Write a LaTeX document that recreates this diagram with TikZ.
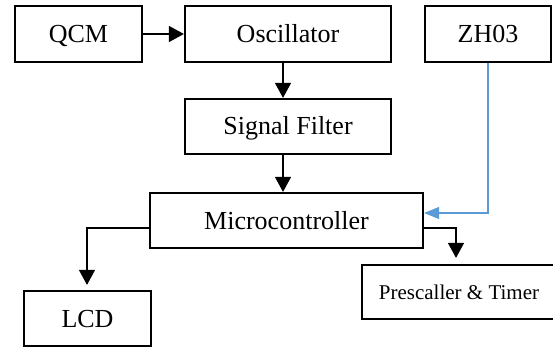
\documentclass[tikz,border=0pt]{standalone}
\usepackage{fontspec}
\setmainfont{Liberation Serif}
\usetikzlibrary{arrows.meta}
\definecolor{linkblue}{RGB}{91,155,213}
\tikzset{
  block/.style={draw=black, line width=2.2pt, inner sep=0pt, align=center,
    text height=17pt, text depth=0pt,
    font=\fontsize{26}{30}\selectfont},
  link/.style={line width=1.2pt, -{Triangle[length=15pt,width=16pt]}},
  bluelink/.style={draw=linkblue, line width=1.2pt,
    -{Triangle[length=15pt,width=12pt,fill=linkblue]}}
}
\begin{document}
\begin{tikzpicture}[x=1pt,y=-1pt]
  \useasboundingbox (0,0) rectangle (553,347);
  \clip (0,0) rectangle (553,347);

  % blocks
  \node[block, minimum width=127pt, minimum height=56pt] (qcm) at (78.4,34) {QCM};
  \node[block, minimum width=206pt, minimum height=56pt] (osc) at (288,34) {Oscillator};
  \node[block, minimum width=126pt, minimum height=56pt] (zh) at (488,34) {ZH03};
  \node[block, minimum width=206pt, minimum height=55pt] (filt) at (288,126.5) {Signal Filter};
  \node[block, minimum width=273pt, minimum height=55pt] (mcu) at (286.5,220.5) {Microcontroller};
  \node[block, minimum width=127pt, minimum height=55pt] (lcd) at (87.5,318.5) {LCD};
  \node[block, minimum width=194pt, minimum height=54pt, text height=14pt,
        font=\fontsize{21}{25}\selectfont] (pre) at (459,292) {Prescaller \& Timer};

  % signal path
  \coordinate (colx) at (283,0);
  \draw[link] (qcm.east) -- (osc.west);
  \draw[link] (osc.south -| colx) -- (filt.north -| colx);
  \draw[link] (filt.south -| colx) -- (mcu.north -| colx);
  \draw[bluelink] (zh.south) |- ([yshift=7.5pt]mcu.east);

  % outputs
  \coordinate (lcdx) at (87,0);
  \coordinate (prex) at (456,0);
  \draw[link, shorten >=5pt] ([yshift=-7.5pt]mcu.west) -| (lcd.north -| lcdx);
  \draw[link, shorten >=6pt] ([yshift=-7.5pt]mcu.east) -| (pre.north -| prex);
\end{tikzpicture}
\end{document}
